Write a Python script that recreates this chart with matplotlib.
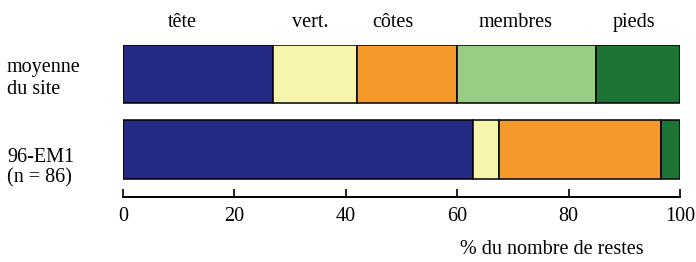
import numpy as np
import matplotlib
matplotlib.use("Agg")
from matplotlib import pyplot as plt

plt.rcParams['font.family'] = ['Liberation Serif', 'DejaVu Serif']

categories = ["tête", "vert.", "côtes", "membres", "pieds"]
colors = ["#262a87", "#f7f5ad", "#f59a2a", "#98cd85", "#1d7535"]
row_labels = [["moyenne", "du site"], ["96-EM1", "(n = 86)"]]

# % of remains per body part
site_mean = [27.0, 15.0, 18.0, 25.0, 15.0]
em1 = [62.8, 4.7, 29.0, 0.0, 3.5]

values = np.array([site_mean, em1])

W, H = 696, 262
FS = 14.5


def px(x, y):
    # pixel position -> figure fraction
    return x / W, 1 - y / H


fig = plt.figure(figsize=(W / 100, H / 100), dpi=100)
ax = fig.add_axes([123 / W, 1 - 196.5 / H, 557 / W, 151.5 / H])

ypos = np.arange(len(row_labels))
left = np.zeros(len(row_labels))
for i, cat in enumerate(categories):
    ax.barh(ypos, values[:, i], left=left, height=0.775, color=colors[i],
            edgecolor='black', linewidth=1.1)
    left += values[:, i]

# category names above the top bar (x in % units)
label_x = [10.7, 33.6, 48.4, 70.4, 91.8]
for x, cat in zip(label_x, categories):
    fig.text(px(123 + x * 5.57, 0)[0], px(0, 27)[1], cat, ha='center',
             va='baseline', fontsize=FS)

ax.set_xlim(0, 100)
ax.set_ylim(1.62, -0.3875)
ax.set_xticks([0, 20, 40, 60, 80, 100])
ax.set_yticks([])
ax.tick_params(axis='x', direction='in', length=6, width=1.2, pad=7.5,
               labelsize=FS)
for s in ['top', 'left', 'right']:
    ax.spines[s].set_visible(False)
ax.spines['bottom'].set_linewidth(1.4)

# row labels, one text per line
baselines = [(71.7, 94.0), (161.7, 182.3)]
for lines, ys in zip(row_labels, baselines):
    for line, y in zip(lines, ys):
        fig.text(*px(7, y), line, ha='left', va='baseline', fontsize=FS)

fig.text(*px(552, 254), "% du nombre de restes", ha='center',
         va='baseline', fontsize=FS)

fig.savefig("out.png", dpi=100)
